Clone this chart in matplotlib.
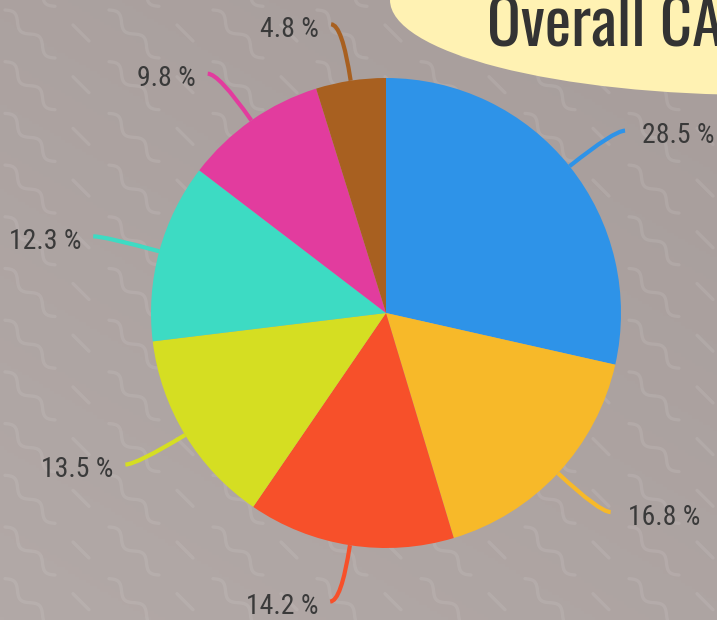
import numpy as np
import matplotlib
matplotlib.use("Agg")
import matplotlib.pyplot as plt
from matplotlib.path import Path
from matplotlib.patches import PathPatch, Ellipse
from matplotlib import font_manager

# ---- data ----
labels = ["28.5 %", "16.8 %", "14.2 %", "13.5 %", "12.3 %", "9.8 %", "4.8 %"]
values = [28.5, 16.8, 14.2, 13.5, 12.3, 9.8, 4.8]
colors = ["#2E93E8", "#F7B929", "#F7502A", "#D5DE22", "#3DDBC3", "#E23C9E", "#A86020"]
title_text = "Overall CAR"

W, H = 717, 620
installed = {f.name for f in font_manager.fontManager.ttflist}

def pick(cands):
    for c in cands:
        if c in installed:
            return c
    return "DejaVu Sans"

label_font = pick(["Roboto Condensed", "Roboto"])
title_font = pick(["Oswald", "Roboto Condensed", "Liberation Sans Narrow", "Roboto"])
label_size = 20 if label_font == "Roboto Condensed" else 17
title_size = 45 if title_font in ("Oswald", "Roboto Condensed", "Liberation Sans Narrow") else 36

fig = plt.figure(figsize=(W / 100, H / 100), dpi=100)
ax = fig.add_axes([0, 0, 1, 1])

# background gradient
g = np.linspace(0, 1, 200)
gx, gy = np.meshgrid(g, g)
t = (gx * 0.4 + gy * 0.6)
c0 = np.array([0xB2, 0xA9, 0xA7]) / 255
c1 = np.array([0xA7, 0x9D, 0x9B]) / 255
img = c0[None, None, :] * (1 - t[..., None]) + c1[None, None, :] * t[..., None]
ax.imshow(img, extent=[0, W, H, 0], origin="upper", zorder=0, aspect="auto")

def Y(y):
    return H - y

# wave pattern decoration
pat_col = (1, 1, 1, 0.085)
tt = np.linspace(0, 1, 60)
dvec = np.array([50.0, 48.0])
perp = np.array([48.0, -50.0]) / np.hypot(48, 50)
for k in range(-1, 8):
    x0 = 5 + 104 * k
    for j in range(-1, 13):
        y0 = 10 + 51.7 * j
        px = x0 + tt * dvec[0] + 4.5 * np.sin(2 * np.pi * 2 * tt) * perp[0]
        py = y0 + tt * dvec[1] + 4.5 * np.sin(2 * np.pi * 2 * tt) * perp[1]
        ax.plot(px, [Y(v) for v in py], color=pat_col, lw=2.4, solid_capstyle="round", zorder=1)
        ax.plot([x0 + 68, x0 + 84], [Y(y0 + 15), Y(y0 + 31)], color=pat_col, lw=2.4,
                solid_capstyle="round", zorder=1)

# title box
ax.add_patch(Ellipse((760, Y(0)), 740, 190, facecolor="#FFF2B3", edgecolor="none", zorder=2))
ax.text(487, Y(46), title_text, fontsize=title_size, family=title_font, color="#333333",
        ha="left", va="baseline", zorder=3)

# pie
cx, cy, r = 386, 313, 235
wedges, _ = ax.pie(values, colors=colors, startangle=90, counterclock=False,
                   center=(cx, Y(cy)), radius=r, wedgeprops=dict(linewidth=0), frame=True)
for w in wedges:
    w.set_zorder(4)

total = sum(values)
cum = 0
for lab, v, col in zip(labels, values, colors):
    mid = (cum + v / 2) / total
    cum += v
    ang = np.deg2rad(90 - 360 * mid)
    d = np.array([np.cos(ang), np.sin(ang)])
    c = np.array([cx, Y(cy)])
    p0 = c + r * d
    pc = c + 292 * d
    sgn = 1 if d[0] >= 0 else -1
    pe = pc + np.array([sgn * 11, 0])
    path = Path([p0, pc, pe], [Path.MOVETO, Path.CURVE3, Path.CURVE3])
    ax.add_patch(PathPatch(path, facecolor="none", edgecolor=col, lw=3, capstyle="butt", zorder=3))
    tx = pe[0] + 17 if sgn > 0 else pe[0] - 12
    ax.text(tx, pe[1] - 5, lab, fontsize=label_size, family=label_font, color="#3A3A3A",
            ha="left" if sgn > 0 else "right", va="center", zorder=5)

ax.set_xlim(0, W)
ax.set_ylim(0, H)
ax.set_aspect("auto")
ax.axis("off")
fig.savefig("out.png", dpi=100)
